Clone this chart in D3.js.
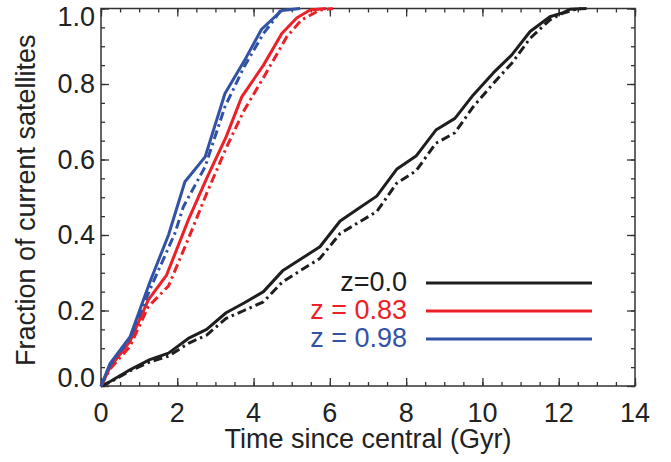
<!DOCTYPE html>
<html>
<head>
<meta charset="utf-8">
<script src="https://cdn.jsdelivr.net/npm/d3@7"></script>
<style>
  body { margin: 0; background: #fff; }
  svg { font-family: "Liberation Sans", Arial, sans-serif; }
  .axis path { display: none; }
  .axis line { stroke: #333; stroke-width: 1.3; }
</style>
</head>
<body>
<div id="viz"></div>
<script>
const width = 671, height = 462;
const margin = { left: 101, right: 36, top: 8.5, bottom: 76 };

// time since central (Gyr), fraction of current satellites
const z00Solid = [[0,0],[0.24,0.012],[0.76,0.043],[1.28,0.07],[1.77,0.087],[2.29,0.126],[2.77,0.15],
  [3.28,0.194],[3.75,0.22],[4.26,0.25],[4.76,0.305],[5.25,0.337],[5.74,0.369],[6.27,0.437],[6.75,0.47],
  [7.23,0.503],[7.75,0.574],[8.26,0.609],[8.78,0.678],[9.28,0.709],[9.76,0.771],[10.29,0.83],[10.77,0.877],
  [11.25,0.939],[11.77,0.978],[12.12,0.989],[12.3,0.998],[12.73,1.0]];
const z00Dash = [[0,0],[0.24,0.01],[0.76,0.04],[1.28,0.064],[1.77,0.079],[2.29,0.113],[2.77,0.135],
  [3.28,0.179],[3.75,0.2],[4.26,0.223],[4.76,0.276],[5.25,0.307],[5.74,0.338],[6.27,0.404],[6.75,0.433],
  [7.23,0.462],[7.75,0.537],[8.26,0.57],[8.78,0.643],[9.28,0.671],[9.76,0.74],[10.29,0.802],[10.77,0.855],
  [11.25,0.921],[11.77,0.97],[12.12,0.988],[12.45,0.998],[12.6,1.0]];
const z083Solid = [[0,0],[0.24,0.05],[0.76,0.118],[1.24,0.228],[1.72,0.294],[2.29,0.44],[2.77,0.55],
  [3.28,0.66],[3.69,0.766],[4.26,0.85],[4.74,0.934],[5.13,0.975],[5.48,0.996],[5.9,1.0]];
const z083Dash = [[0,0],[0.24,0.045],[0.76,0.105],[1.24,0.21],[1.77,0.265],[2.29,0.39],[2.77,0.51],
  [3.28,0.63],[3.75,0.73],[4.3,0.824],[4.87,0.925],[5.26,0.97],[5.74,0.996],[6.08,1.0]];
const z098Solid = [[0,0],[0.24,0.06],[0.76,0.13],[1.28,0.275],[1.77,0.4],[2.2,0.541],[2.73,0.607],
  [3.25,0.775],[3.75,0.86],[4.21,0.945],[4.74,0.995],[5.22,1.0]];
const z098Dash = [[0,0],[0.24,0.055],[0.76,0.125],[1.28,0.255],[1.94,0.405],[2.16,0.475],[2.73,0.581],
  [3.25,0.74],[3.75,0.845],[4.26,0.934],[4.56,0.973],[4.74,1.0]];

const legendLabels = ["z=0.0", "z = 0.83", "z = 0.98"];
const seriesColors = ["#1e1e1e", "#ec2027", "#3253a5"];
const xTicks = [0, 2, 4, 6, 8, 10, 12, 14];
const yTicks = [0.0, 0.2, 0.4, 0.6, 0.8, 1.0];

const svg = d3.select("#viz").append("svg")
  .attr("width", width)
  .attr("height", height);

const x = d3.scaleLinear().domain([0, 14]).range([margin.left, width - margin.right]);
const y = d3.scaleLinear().domain([0, 1]).range([height - margin.bottom, margin.top]);

// minor + major ticks, pointing inward on all four sides
const xMinor = d3.range(0, 14.01, 0.5);
const yMinor = d3.range(0, 1.001, 0.05);
function addAxis(gen, transform, ticks, size) {
  svg.append("g").attr("class", "axis")
    .attr("transform", transform)
    .call(gen.tickValues(ticks).tickSize(size).tickFormat(""));
}
const b = height - margin.bottom, r = width - margin.right;
addAxis(d3.axisBottom(x), `translate(0,${b})`, xMinor, -4);
addAxis(d3.axisBottom(x), `translate(0,${b})`, xTicks, -8);
addAxis(d3.axisTop(x), `translate(0,${margin.top})`, xMinor, -4);
addAxis(d3.axisTop(x), `translate(0,${margin.top})`, xTicks, -8);
addAxis(d3.axisLeft(y), `translate(${margin.left},0)`, yMinor, -4);
addAxis(d3.axisLeft(y), `translate(${margin.left},0)`, yTicks, -8);
addAxis(d3.axisRight(y), `translate(${r},0)`, yMinor, -4);
addAxis(d3.axisRight(y), `translate(${r},0)`, yTicks, -8);

// frame
svg.append("rect")
  .attr("x", margin.left).attr("y", margin.top)
  .attr("width", r - margin.left).attr("height", b - margin.top)
  .attr("fill", "none").attr("stroke", "#333").attr("stroke-width", 1.5);

// tick labels
svg.selectAll(".xlab").data(xTicks).enter().append("text")
  .attr("x", d => x(d)).attr("y", 422)
  .attr("text-anchor", "middle").attr("font-size", 27).attr("fill", "#222")
  .text(d => d);
svg.selectAll(".ylab").data(yTicks).enter().append("text")
  .attr("x", 95)
  .attr("y", d => y(d) + (d === 1 ? 8.5 : d === 0 ? -8 : 0))
  .attr("dy", "0.35em")
  .attr("text-anchor", "end").attr("font-size", 27).attr("fill", "#222")
  .text(d => d.toFixed(1));

// axis titles
svg.append("text")
  .attr("x", (margin.left + r) / 2).attr("y", 448)
  .attr("text-anchor", "middle").attr("font-size", 27).attr("fill", "#222")
  .text("Time since central (Gyr)");
svg.append("text")
  .attr("transform", `translate(35,${(margin.top + b) / 2 + 3}) rotate(-90)`)
  .attr("text-anchor", "middle").attr("font-size", 27).attr("fill", "#222")
  .text("Fraction of current satellites");

// curves
const line = d3.line().x(d => x(d[0])).y(d => y(d[1]));
const curves = [
  { data: z00Dash, color: seriesColors[0], dash: true },
  { data: z00Solid, color: seriesColors[0], dash: false },
  { data: z083Dash, color: seriesColors[1], dash: true },
  { data: z083Solid, color: seriesColors[1], dash: false },
  { data: z098Dash, color: seriesColors[2], dash: true },
  { data: z098Solid, color: seriesColors[2], dash: false }
];
curves.forEach(c => {
  svg.append("path")
    .datum(c.data)
    .attr("d", line)
    .attr("fill", "none")
    .attr("stroke", c.color)
    .attr("stroke-width", 3)
    .attr("stroke-linejoin", "round")
    .attr("stroke-dasharray", c.dash ? "9,4,2.5,4" : null);
});

// legend
legendLabels.forEach((lab, i) => {
  const ly = 283 + i * 28;
  svg.append("line")
    .attr("x1", 426).attr("x2", 592).attr("y1", ly).attr("y2", ly)
    .attr("stroke", seriesColors[i]).attr("stroke-width", 3);
  svg.append("text")
    .attr("x", 407).attr("y", ly + 8)
    .attr("text-anchor", "end").attr("font-size", 27).attr("fill", seriesColors[i])
    .text(lab);
});
</script>
</body>
</html>
